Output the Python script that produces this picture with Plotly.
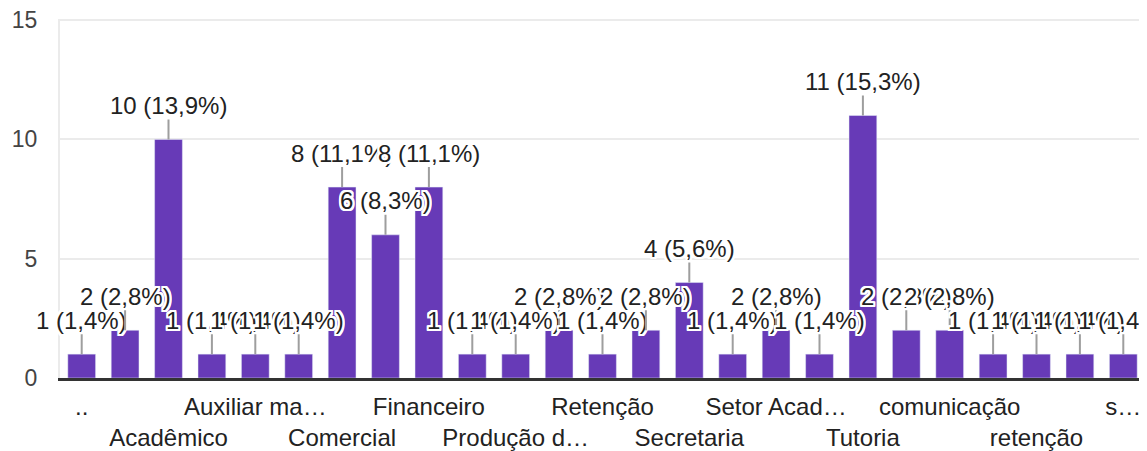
import plotly.graph_objects as go

categories = ["..", "Acadêmica", "Acadêmico", "Atendimento", "Auxiliar ma…", "Captação",
              "Comercial", "Coordenação", "Financeiro", "Polo", "Produção d…", "Relacionamento",
              "Retenção", "Retenção e permanência", "Secretaria", "Secretaria acadêmica",
              "Setor Acad…", "Suporte", "Tutoria", "acadêmico", "comunicação", "financeiro",
              "retenção", "rh", "s…"]
values = [1, 2, 10, 1, 1, 1, 8, 6, 8, 1, 1, 2, 1, 2, 4, 1, 2, 1, 11, 2, 2, 1, 1, 1, 1]
y_ticks = [0, 5, 10, 15]

total = sum(values)
FONT = "Liberation Sans, Arial, sans-serif"
FS = 24
halo = ", ".join(f"{dx}px {dy}px 0 white" for dx, dy in
                 [(2, 0), (-2, 0), (0, 2), (0, -2), (2, 2), (-2, -2), (2, -2), (-2, 2),
                  (1, 2), (2, 1), (-1, 2), (-2, 1), (1, -2), (2, -1), (-1, -2), (-2, -1)])

fig = go.Figure()
fig.add_trace(go.Bar(x=list(range(len(categories))), y=values, marker_color="#673ab7",
                     hovertext=categories, width=0.64))

ticktext = []
for i, c in enumerate(categories):
    if i % 2 == 1:
        ticktext.append("")
    elif (i // 2) % 2 == 0:
        ticktext.append(c)
    else:
        ticktext.append("<br>" + c)

for i, v in enumerate(values):
    label = f"{v} ({v / total * 100:.1f}%)".replace(".", ",")
    fig.add_annotation(x=i, y=v, xref="x", yref="y", text=label, showarrow=True,
                       arrowhead=0, arrowwidth=2, arrowcolor="#9e9e9e", standoff=0,
                       ax=0, ay=-34, borderpad=0,
                       font=dict(family=FONT, size=FS, color="#222222", shadow=halo))

# page body has an 8px default margin, so the figure is shifted by 8px
fig.update_layout(
    width=1139, height=443,
    margin=dict(l=52, r=2, t=11, b=73),
    plot_bgcolor="white", paper_bgcolor="white",
    showlegend=False,
    font=dict(family=FONT, size=FS, color="#222222"),
)
fig.update_xaxes(range=[-0.5, len(categories) - 0.5], tickmode="array",
                 tickvals=list(range(len(categories))), ticktext=ticktext,
                 tickangle=0, automargin=False, ticklabelstandoff=5,
                 ticklabeloverflow="allow",
                 showgrid=False, showline=True, linecolor="#333333", linewidth=3,
                 ticks="", tickfont=dict(family=FONT, size=FS, color="#222222"))
fig.update_yaxes(range=[0, y_ticks[-1] * 1.003], tickvals=y_ticks, showgrid=True,
                 gridcolor="#ebebeb", gridwidth=2, zeroline=False, showline=True,
                 linecolor="#ebebeb", linewidth=2, mirror=True, ticks="",
                 ticklabelstandoff=16, automargin=False, ticklabeloverflow="allow",
                 tickfont=dict(family=FONT, size=FS - 1, color="#444444"))

fig.write_html("out.html")
